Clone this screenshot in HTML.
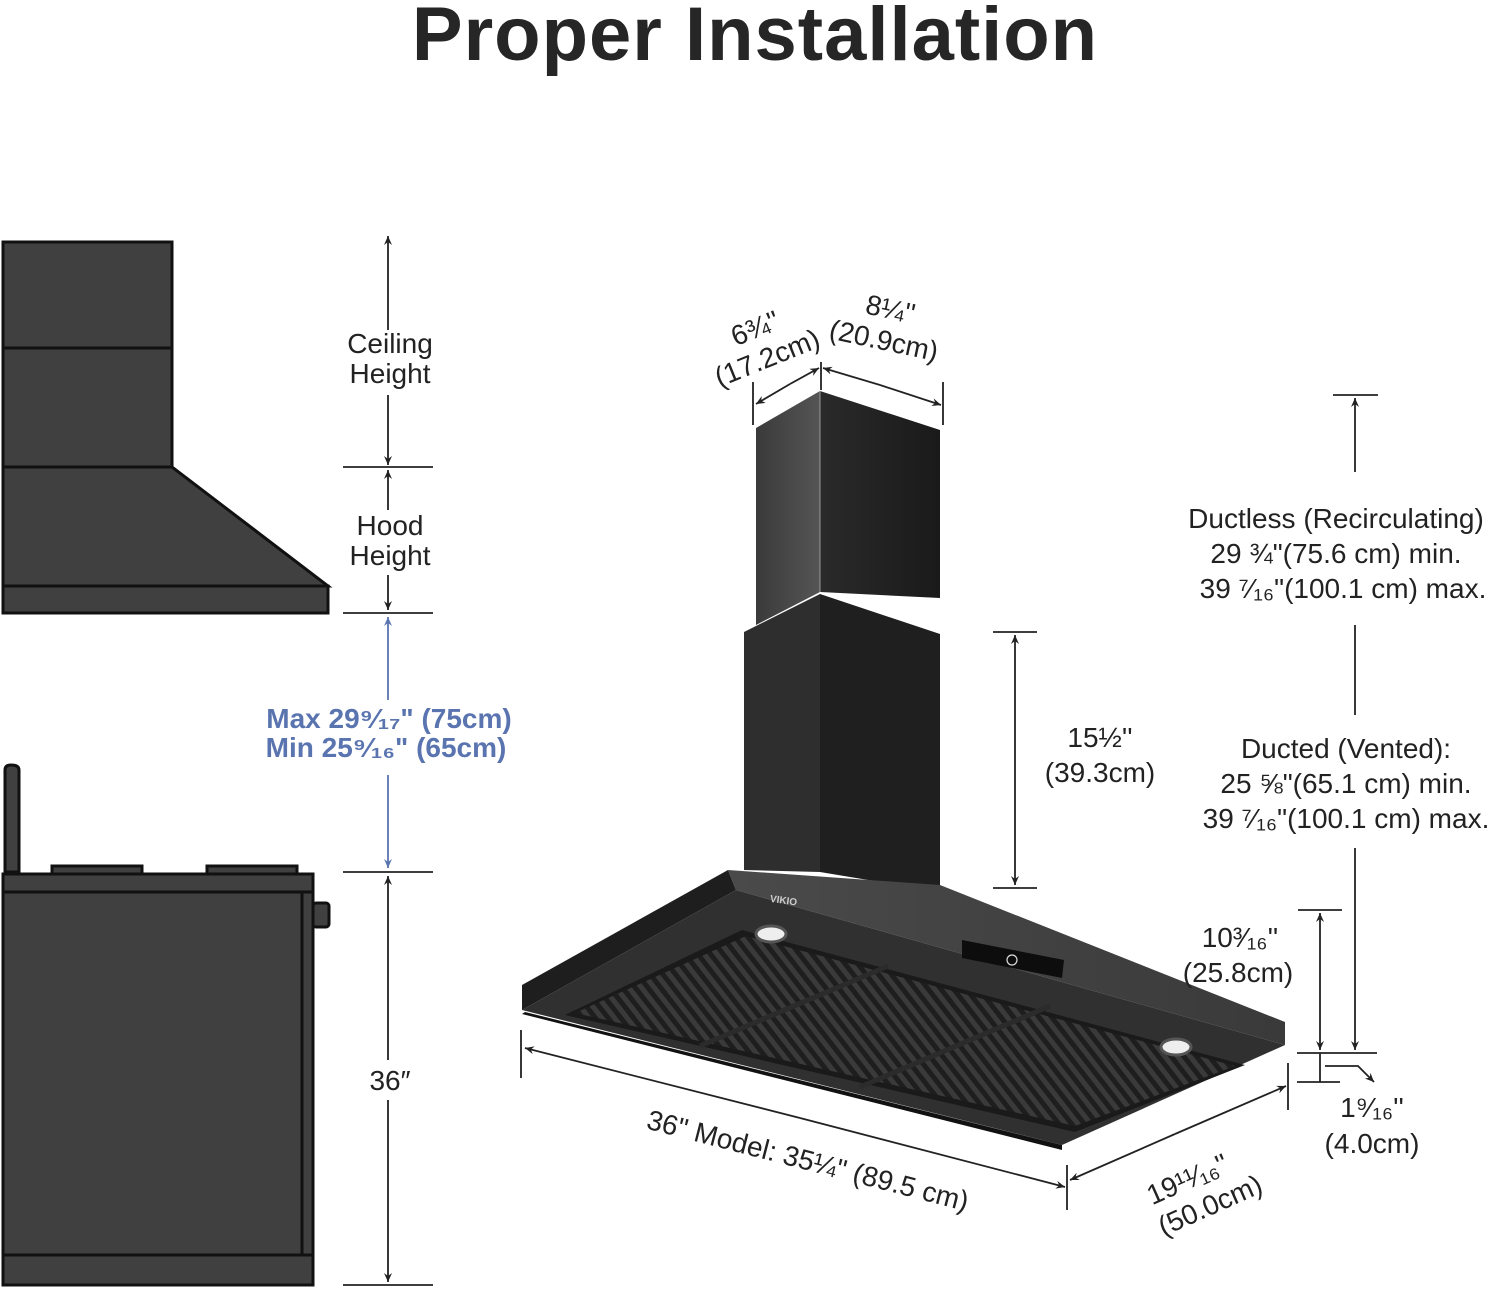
<!DOCTYPE html>
<html><head><meta charset="utf-8"><style>
html,body{margin:0;padding:0;background:#fff;}
svg{display:block}
text{font-family:"Liberation Sans",sans-serif;fill:#222}
</style></head><body>
<svg width="1500" height="1289" viewBox="0 0 1500 1289" xmlns="http://www.w3.org/2000/svg">
<defs>
<marker id="a" markerWidth="10" markerHeight="10" refX="9" refY="5" orient="auto" markerUnits="userSpaceOnUse"><path d="M0,1 L9,5 L0,9 L3,5 Z" fill="#222"/></marker>
<marker id="b" markerWidth="10" markerHeight="10" refX="9" refY="5" orient="auto" markerUnits="userSpaceOnUse"><path d="M0,1 L9,5 L0,9 L3,5 Z" fill="#5a74b0"/></marker>
<linearGradient id="gl" x1="0" x2="1"><stop offset="0" stop-color="#3a3a3a"/><stop offset="1" stop-color="#555"/></linearGradient>
<linearGradient id="gr" x1="0" x2="1"><stop offset="0" stop-color="#2a2a2a"/><stop offset="1" stop-color="#1a1a1a"/></linearGradient>
<linearGradient id="gf" x1="0" x2="1"><stop offset="0" stop-color="#4a4a4a"/><stop offset="1" stop-color="#3a3a3a"/></linearGradient>
<pattern id="grill" width="10" height="10" patternUnits="userSpaceOnUse" patternTransform="rotate(-38)"><rect width="10" height="10" fill="#3a3a3a"/><rect width="5" height="10" fill="#1e1e1e"/></pattern>
</defs>
<text x="755" y="60" text-anchor="middle" font-size="76" font-weight="bold" letter-spacing="1" style="fill:#262626">Proper Installation</text>

<!-- left hood -->
<g fill="#404040" stroke="#111" stroke-width="3">
<rect x="3" y="242" width="169" height="106"/>
<rect x="3" y="348" width="169" height="119"/>
<path d="M3,467 L172,467 L328,586 L3,586 Z"/>
<rect x="3" y="586" width="325" height="27"/>
<path d="M5,872 L5,770 Q5,765 11,765 Q19,765 19,770 L19,872 Z"/>
<rect x="52" y="866" width="90" height="8"/>
<rect x="207" y="866" width="90" height="8"/>
<rect x="313" y="903" width="16" height="24" rx="3"/>
<rect x="3" y="874" width="310" height="18"/>
<rect x="3" y="892" width="310" height="393"/>
<line x1="302" y1="892" x2="302" y2="1255"/>
<line x1="3" y1="1255" x2="313" y2="1255"/>
</g>

<!-- left dimensions -->
<g stroke="#222" stroke-width="1.8" fill="none">
<line x1="388" y1="330" x2="388" y2="236" marker-end="url(#a)"/>
<line x1="388" y1="395" x2="388" y2="465" marker-end="url(#a)"/>
<line x1="343" y1="467" x2="433" y2="467"/>
<line x1="388" y1="510" x2="388" y2="470" marker-end="url(#a)"/>
<line x1="388" y1="575" x2="388" y2="610" marker-end="url(#a)"/>
<line x1="343" y1="613" x2="433" y2="613"/>
<line x1="343" y1="872" x2="433" y2="872"/>
<line x1="388" y1="1060" x2="388" y2="876" marker-end="url(#a)"/>
<line x1="388" y1="1100" x2="388" y2="1282" marker-end="url(#a)"/>
<line x1="343" y1="1285" x2="433" y2="1285"/>
</g>
<g stroke="#5a74b0" stroke-width="1.8">
<line x1="388" y1="700" x2="388" y2="617" marker-end="url(#b)"/>
<line x1="388" y1="775" x2="388" y2="868" marker-end="url(#b)"/>
</g>
<g font-size="28" text-anchor="middle">
<text x="390" y="353">Ceiling</text><text x="390" y="383">Height</text>
<text x="390" y="535">Hood</text><text x="390" y="565">Height</text>
<text x="390" y="1090">36″</text>
</g>
<g font-size="28" font-weight="bold" text-anchor="middle">
<text x="389" y="728" style="fill:#5a74b0">Max 29⁹⁄₁₇" (75cm)</text>
<text x="386" y="757" style="fill:#5a74b0">Min 25⁹⁄₁₆" (65cm)</text>
</g>

<!-- 3D hood -->
<polygon points="756,428 820,391 820,592 756,625" fill="url(#gl)"/>
<polygon points="820,391 940,430 940,598 820,592" fill="url(#gr)"/>
<line x1="820" y1="391" x2="820" y2="592" stroke="#999" stroke-width="1"/>
<polygon points="744,632 820,594 820,872 744,870" fill="#2e2e2e"/>
<polygon points="820,594 940,634 940,892 820,872" fill="#1f1f1f"/>
<!-- left side -->
<polygon points="522,985 728,870 736,890 522,1010" fill="#1e1e1e"/>
<!-- front sloped face -->
<polygon points="728,870 940,885 1285,1022 1285,1045 736,890" fill="url(#gf)"/>
<!-- underside -->
<polygon points="522,1010 736,890 1285,1045 1062,1145" fill="#303030"/>
<polygon points="525,1012 1062,1145 1062,1150 522,1014" fill="#111"/>
<polygon points="565,1015 742,930 1245,1065 1075,1132" fill="#1a1a1a"/>
<polygon points="575,1013 746,936 1235,1066 1075,1126" fill="url(#grill)"/>
<line x1="700" y1="1046" x2="888" y2="966" stroke="#2b2b2b" stroke-width="5"/>
<line x1="860" y1="1087" x2="1050" y2="1006" stroke="#2b2b2b" stroke-width="5"/>
<ellipse cx="771" cy="934" rx="15" ry="8" fill="#eee" stroke="#555" stroke-width="3"/>
<ellipse cx="1176" cy="1047" rx="15" ry="8" fill="#eee" stroke="#555" stroke-width="3"/>
<polygon points="962,940 1064,960 1062,978 962,958" fill="#0d0d0d"/>
<circle cx="1012" cy="960" r="5" fill="none" stroke="#ddd" stroke-width="1.2"/>
<text x="770" y="904" font-size="10" font-weight="bold" transform="rotate(8 786 900)" style="fill:#ccc">VIKIO</text>

<!-- hood dimensions -->
<g stroke="#222" stroke-width="1.8" fill="none">
<line x1="753" y1="382" x2="753" y2="425"/>
<line x1="821" y1="362" x2="821" y2="390"/>
<line x1="943" y1="382" x2="943" y2="425"/>
<line x1="790" y1="384" x2="756" y2="404" marker-end="url(#a)"/>
<line x1="790" y1="384" x2="819" y2="368" marker-end="url(#a)"/>
<line x1="880" y1="385" x2="823" y2="368" marker-end="url(#a)"/>
<line x1="880" y1="385" x2="941" y2="405" marker-end="url(#a)"/>
<line x1="993" y1="632" x2="1037" y2="632"/>
<line x1="993" y1="888" x2="1037" y2="888"/>
<line x1="1015" y1="760" x2="1015" y2="635" marker-end="url(#a)"/>
<line x1="1015" y1="760" x2="1015" y2="885" marker-end="url(#a)"/>
<line x1="1333" y1="395" x2="1378" y2="395"/>
<line x1="1355" y1="472" x2="1355" y2="398" marker-end="url(#a)"/>
<line x1="1355" y1="625" x2="1355" y2="715"/>
<line x1="1355" y1="848" x2="1355" y2="1050" marker-end="url(#a)"/>
<line x1="1297" y1="1053" x2="1377" y2="1053"/>
<line x1="1298" y1="910" x2="1342" y2="910"/>
<line x1="1320" y1="980" x2="1320" y2="913" marker-end="url(#a)"/>
<line x1="1320" y1="980" x2="1320" y2="1050" marker-end="url(#a)"/>
<line x1="1320" y1="1053" x2="1320" y2="1082"/>
<line x1="1297" y1="1082" x2="1340" y2="1082"/>
<polyline points="1325,1066 1358,1066 1374,1082" marker-end="url(#a)"/>
<line x1="521" y1="1030" x2="521" y2="1078"/>
<line x1="1067" y1="1165" x2="1067" y2="1210"/>
<line x1="1288" y1="1063" x2="1288" y2="1110"/>
<line x1="800" y1="1118" x2="525" y2="1048" marker-end="url(#a)"/>
<line x1="800" y1="1118" x2="1065" y2="1187" marker-end="url(#a)"/>
<line x1="1175" y1="1134" x2="1070" y2="1180" marker-end="url(#a)"/>
<line x1="1175" y1="1134" x2="1286" y2="1086" marker-end="url(#a)"/>
</g>
<g font-size="28" text-anchor="middle">
<g transform="rotate(-22 764 350)"><text x="764" y="336">6¾''</text><text x="764" y="368">(17.2cm)</text></g>
<g transform="rotate(12 885 335)"><text x="885" y="318">8¼''</text><text x="885" y="350">(20.9cm)</text></g>
<text x="1100" y="747">15½''</text><text x="1100" y="782">(39.3cm)</text>
<text x="1240" y="947">10³⁄₁₆''</text><text x="1238" y="982">(25.8cm)</text>
<text x="1372" y="1117">1⁹⁄₁₆''</text><text x="1372" y="1153">(4.0cm)</text>
<text x="1336" y="528">Ductless (Recirculating)</text>
<text x="1336" y="563">29 ¾"(75.6 cm) min.</text>
<text x="1343" y="598">39 ⁷⁄₁₆"(100.1 cm) max.</text>
<text x="1346" y="758">Ducted (Vented):</text>
<text x="1346" y="793">25 ⅝"(65.1 cm) min.</text>
<text x="1346" y="828">39 ⁷⁄₁₆"(100.1 cm) max.</text>
<text x="808" y="1170" transform="rotate(14.5 808 1160)">36" Model: 35¼" (89.5 cm)</text>
<g transform="rotate(-24 1200 1195)"><text x="1195" y="1185">19¹¹⁄₁₆''</text><text x="1205" y="1218">(50.0cm)</text></g>
</g>
</svg>
</body></html>
